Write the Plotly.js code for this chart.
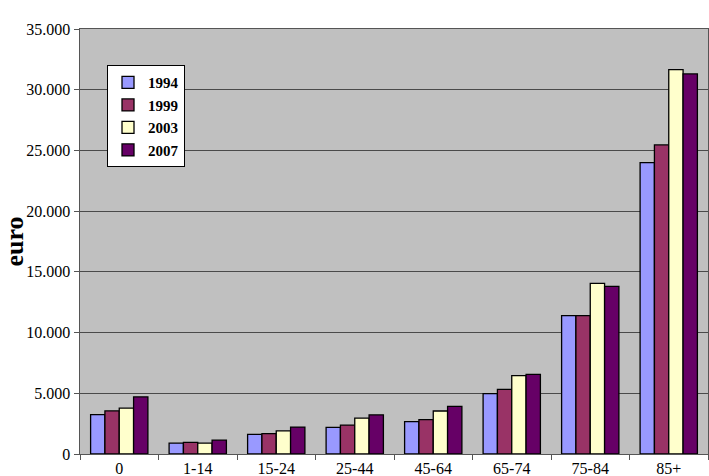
<!DOCTYPE html>
<html>
<head>
<meta charset="utf-8">
<script src="https://cdn.plot.ly/plotly-3.0.1.min.js"></script>
<style>html,body{margin:0;padding:0;background:#fff;}#chart{width:709px;height:476px;}</style>
</head>
<body>
<div id="chart"></div>
<script>
const categories = ["0", "1-14", "15-24", "25-44", "45-64", "65-74", "75-84", "85+"];
const years = ["1994", "1999", "2003", "2007"];
const values1994 = [3250, 900, 1620, 2200, 2670, 4980, 11400, 24000];
const values1999 = [3550, 960, 1670, 2380, 2830, 5320, 11400, 25450];
const values2003 = [3780, 900, 1900, 2950, 3540, 6450, 14050, 31650];
const values2007 = [4700, 1140, 2220, 3220, 3930, 6550, 13800, 31300];
const seriesValues = [values1994, values1999, values2003, values2007];
const colors = ["#9999FF", "#993366", "#FFFFCC", "#660066"];

const traces = years.map((y, i) => ({
  type: "bar",
  name: y,
  x: categories,
  y: seriesValues[i],
  legendgroup: y,
  marker: {color: colors[i], line: {color: "#000", width: 1.3}},
  hoverinfo: "x+y+name"
}));

const serif = '"Liberation Serif", "Times New Roman", serif';

const layout = {
  width: 709, height: 476,
  margin: {l: 80, r: 1, t: 29, b: 22},
  paper_bgcolor: "#fff",
  plot_bgcolor: "#C0C0C0",
  separators: ",.",
  font: {family: serif, color: "#000", size: 16},
  barmode: "group",
  bargap: 0.27,
  bargroupgap: 0,
  showlegend: true,
  legend: {
    x: 0.043, y: 0.915, xanchor: "left", yanchor: "top",
    bgcolor: "#fff", bordercolor: "#000", borderwidth: 1,
    font: {family: serif, size: 15, weight: "bold"},
    tracegroupgap: 0,
    itemwidth: 30
  },
  xaxis: {
    type: "category",
    tickson: "boundaries",
    ticks: "outside", ticklen: 5, tickcolor: "#555",
    showline: true, linecolor: "#555", linewidth: 1, mirror: true,
    showgrid: false,
    tickfont: {family: serif, size: 16}
  },
  yaxis: {
    range: [0, 35000],
    dtick: 5000,
    tickformat: ",d",
    ticks: "outside", ticklen: 5, tickcolor: "#555",
    showline: true, linecolor: "#555", linewidth: 1.5, mirror: true,
    showgrid: true, gridcolor: "#4a4a4a", gridwidth: 1,
    zeroline: false,
    tickfont: {family: serif, size: 16},
    title: {text: "euro", font: {family: serif, size: 26, weight: "bold"}, standoff: 2}
  }
};

Plotly.newPlot("chart", traces, layout, {displayModeBar: false, staticPlot: true});
</script>
</body>
</html>
